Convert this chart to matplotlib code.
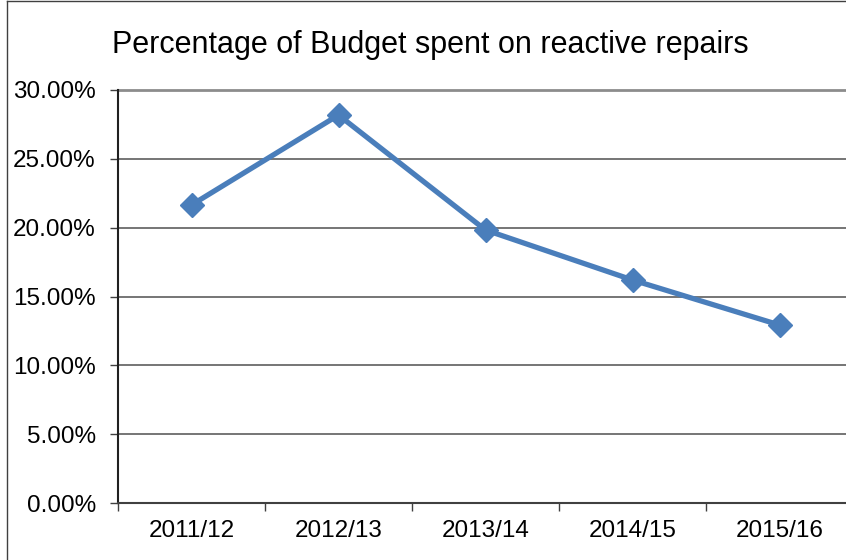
import matplotlib.pyplot as plt
from matplotlib.lines import Line2D
from matplotlib.ticker import FuncFormatter

years = ['2011/12', '2012/13', '2013/14', '2014/15', '2015/16']
pct_reactive = [21.65, 28.18, 19.83, 16.20, 12.93]

plt.rcParams['font.family'] = ['Liberation Sans', 'DejaVu Sans']

fig = plt.figure(figsize=(8.46, 5.6), dpi=100)
ax = fig.add_axes([118 / 846, 1 - 503 / 560, 735 / 846, 413 / 560])

x = list(range(len(years)))
ax.plot(x, pct_reactive, color='#4A7EBB', lw=3.8, marker='D', markersize=12,
        solid_joinstyle='miter', zorder=3)

ax.set_ylim(0, 30)
ax.set_xlim(-0.5, len(years) - 0.5)
ax.set_yticks([0, 5, 10, 15, 20, 25, 30])
ax.yaxis.set_major_formatter(FuncFormatter(lambda v, p: f'{v:.2f}%'))
ax.set_xticks(x)
ax.set_xticklabels(years)
ax.set_xticks([i - 0.5 for i in range(len(years) + 1)], minor=True)

ax.grid(axis='y', color='#5e5e5e', lw=1.2)
# top gridline looks lighter and a bit thicker
ax.axhline(30, color='#8c8c8c', lw=2, zorder=1, clip_on=False)
ax.set_axisbelow(True)
ax.tick_params(axis='y', length=6, width=1, color='#404040', labelsize=17.5, pad=10)
ax.tick_params(axis='x', which='major', length=0, labelsize=17.5, pad=12)
ax.tick_params(axis='x', which='minor', length=6, width=1, color='#404040')

for s in ['top', 'right']:
    ax.spines[s].set_visible(False)
ax.spines['left'].set_color('#202020')
ax.spines['left'].set_linewidth(1.5)
ax.spines['bottom'].set_color('#404040')
ax.spines['bottom'].set_linewidth(1.5)

fig.text(430 / 846, 1 - 45 / 560, 'Percentage of Budget spent on reactive repairs',
         ha='center', va='center', fontsize=22)

# chart frame (left and top edges visible)
fig.add_artist(Line2D([6.5 / 846, 6.5 / 846], [0, 1 - 0.5 / 560], color='#404040', lw=1))
fig.add_artist(Line2D([6.5 / 846, 1], [1 - 0.5 / 560, 1 - 0.5 / 560], color='#404040', lw=1))

fig.savefig('out.png', dpi=100)
